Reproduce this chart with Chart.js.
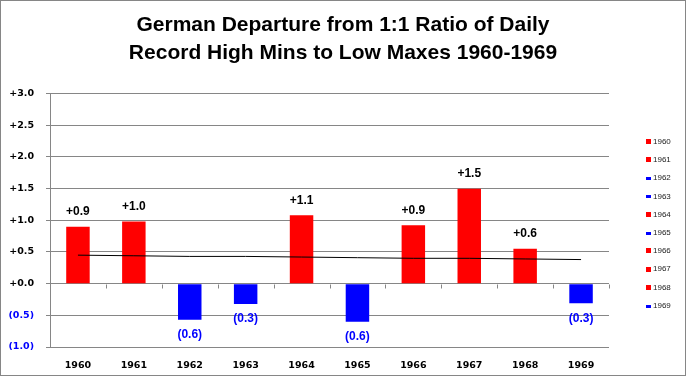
<!DOCTYPE html>
<html>
<head>
<meta charset="utf-8">
<script src="https://cdn.jsdelivr.net/npm/chart.js@4.4.1/dist/chart.umd.min.js"></script>
<style>
  html, body { margin: 0; padding: 0; background: #fff; }
  #wrap { width: 686px; height: 376px; }
</style>
</head>
<body>
<div id="wrap"><canvas id="chart"></canvas></div>
<script>
// values
const years = ['1960', '1961', '1962', '1963', '1964', '1965', '1966', '1967', '1968', '1969'];
const departure = [0.90, 0.98, -0.57, -0.32, 1.08, -0.60, 0.92, 1.50, 0.55, -0.31];
const trend = [0.45, 0.44, 0.43, 0.43, 0.42, 0.41, 0.40, 0.40, 0.39, 0.38];
const yTicks = [-1.0, -0.5, 0.0, 0.5, 1.0, 1.5, 2.0, 2.5, 3.0];

const RED = '#FF0000';
const BLUE = '#0000FF';
const GRID = '#868686';
const SANS = '"Liberation Sans", Arial, sans-serif';
const TAHOMA = '"DejaVu Sans", Verdana, sans-serif';

function fmt(v) {
    if (v < 0) return '(' + Math.abs(v).toFixed(1) + ')';
    return '+' + v.toFixed(1);
}

const barColors = departure.map(v => (v < 0 ? BLUE : RED));

// white background + grey chart border
const frame = {
    id: 'frame',
    beforeDraw(chart) {
        const ctx = chart.ctx;
        ctx.save();
        ctx.fillStyle = '#fff';
        ctx.fillRect(0, 0, chart.width, chart.height);
        ctx.strokeStyle = GRID;
        ctx.lineWidth = 1;
        ctx.strokeRect(0.5, 0.5, chart.width - 1, chart.height - 1);
        ctx.restore();
    }
};

// little tick marks below the zero line, between the categories
const zeroTicks = {
    id: 'zeroTicks',
    afterDraw(chart) {
        const x = chart.scales.x, y = chart.scales.y;
        const ctx = chart.ctx;
        const y0 = Math.round(y.getPixelForValue(0)) + 0.5;
        const half = (x.getPixelForValue(1) - x.getPixelForValue(0)) / 2;
        ctx.save();
        ctx.strokeStyle = GRID;
        ctx.lineWidth = 1;
        ctx.beginPath();
        for (let i = 0; i < years.length; i++) {
            const px = Math.round(x.getPixelForValue(i) + half) + 0.5;
            ctx.moveTo(px, y0);
            ctx.lineTo(px, y0 + 4);
        }
        ctx.stroke();
        ctx.restore();
    }
};

// value labels above / below the bars
const barLabels = {
    id: 'barLabels',
    afterDatasetsDraw(chart) {
        const meta = chart.getDatasetMeta(1); // the bar dataset
        const ctx = chart.ctx;
        ctx.save();
        ctx.font = 'bold 12px ' + SANS;
        ctx.textAlign = 'center';
        ctx.textBaseline = 'middle';
        meta.data.forEach((bar, i) => {
            const v = departure[i];
            if (v >= 0) {
                ctx.fillStyle = '#000';
                ctx.fillText(fmt(v), bar.x, bar.y - 15);
            } else {
                ctx.fillStyle = BLUE;
                ctx.fillText(fmt(v), bar.x, bar.y + 15);
            }
        });
        ctx.restore();
    }
};

// Excel-style legend: one entry per year
const sideLegend = {
    id: 'sideLegend',
    afterDraw(chart) {
        const ctx = chart.ctx;
        ctx.save();
        ctx.font = '8px ' + SANS;
        ctx.textBaseline = 'middle';
        years.forEach((yr, i) => {
            const cy = 141.7 + i * 18.2;
            ctx.fillStyle = barColors[i];
            if (departure[i] < 0) ctx.fillRect(646, Math.round(cy - 1), 5, 3);
            else ctx.fillRect(646, Math.round(cy - 2.5), 5, 5);
            ctx.fillStyle = '#222';
            ctx.fillText(yr, 653, cy);
        });
        ctx.restore();
    }
};

new Chart(document.getElementById('chart'), {
    data: {
        labels: years,
        datasets: [
            {
                type: 'line',
                label: 'Trend',
                data: trend,
                borderColor: '#000',
                borderWidth: 1,
                pointRadius: 0,
                fill: false,
                order: 0
            },
            {
                type: 'bar',
                label: 'Departure',
                data: departure,
                backgroundColor: barColors,
                categoryPercentage: 1,
                barPercentage: 0.42,
                order: 1
            }
        ]
    },
    options: {
        responsive: true,
        maintainAspectRatio: false,
        animation: false,
        layout: { padding: 0 },
        plugins: {
            legend: { display: false },
            tooltip: { enabled: false },
            title: {
                display: true,
                text: ['German Departure from 1:1 Ratio of Daily', 'Record High Mins to Low Maxes 1960-1969'],
                color: '#000',
                font: { family: SANS, size: 21, weight: 'bold', lineHeight: 1.3 },
                padding: { top: 12, bottom: 27 }
            }
        },
        scales: {
            x: {
                grid: { display: false, drawTicks: false },
                border: { display: false },
                ticks: {
                    color: '#000',
                    padding: 13,
                    font: { family: TAHOMA, size: 9.5, weight: 'bold' }
                },
                afterFit(scale) { scale.height = 29; }
            },
            y: {
                min: -1,
                max: 3,
                afterBuildTicks(scale) { scale.ticks = yTicks.map(v => ({ value: v })); },
                grid: { color: GRID, tickLength: 4, lineWidth: 1 },
                border: { display: true, color: GRID },
                ticks: {
                    padding: 12,
                    callback: v => fmt(v),
                    color: c => (c.tick && c.tick.value < 0 ? BLUE : '#000'),
                    font: { family: TAHOMA, size: 9.5, weight: 'bold' }
                },
                afterFit(scale) { scale.width = 50; }
            },
            // empty axis that only reserves the room where the legend sits
            side: {
                type: 'linear',
                position: 'right',
                grid: { display: false },
                border: { display: false },
                ticks: { display: false },
                afterFit(scale) { scale.width = 77; }
            }
        }
    },
    plugins: [frame, zeroTicks, barLabels, sideLegend]
});
</script>
</body>
</html>
